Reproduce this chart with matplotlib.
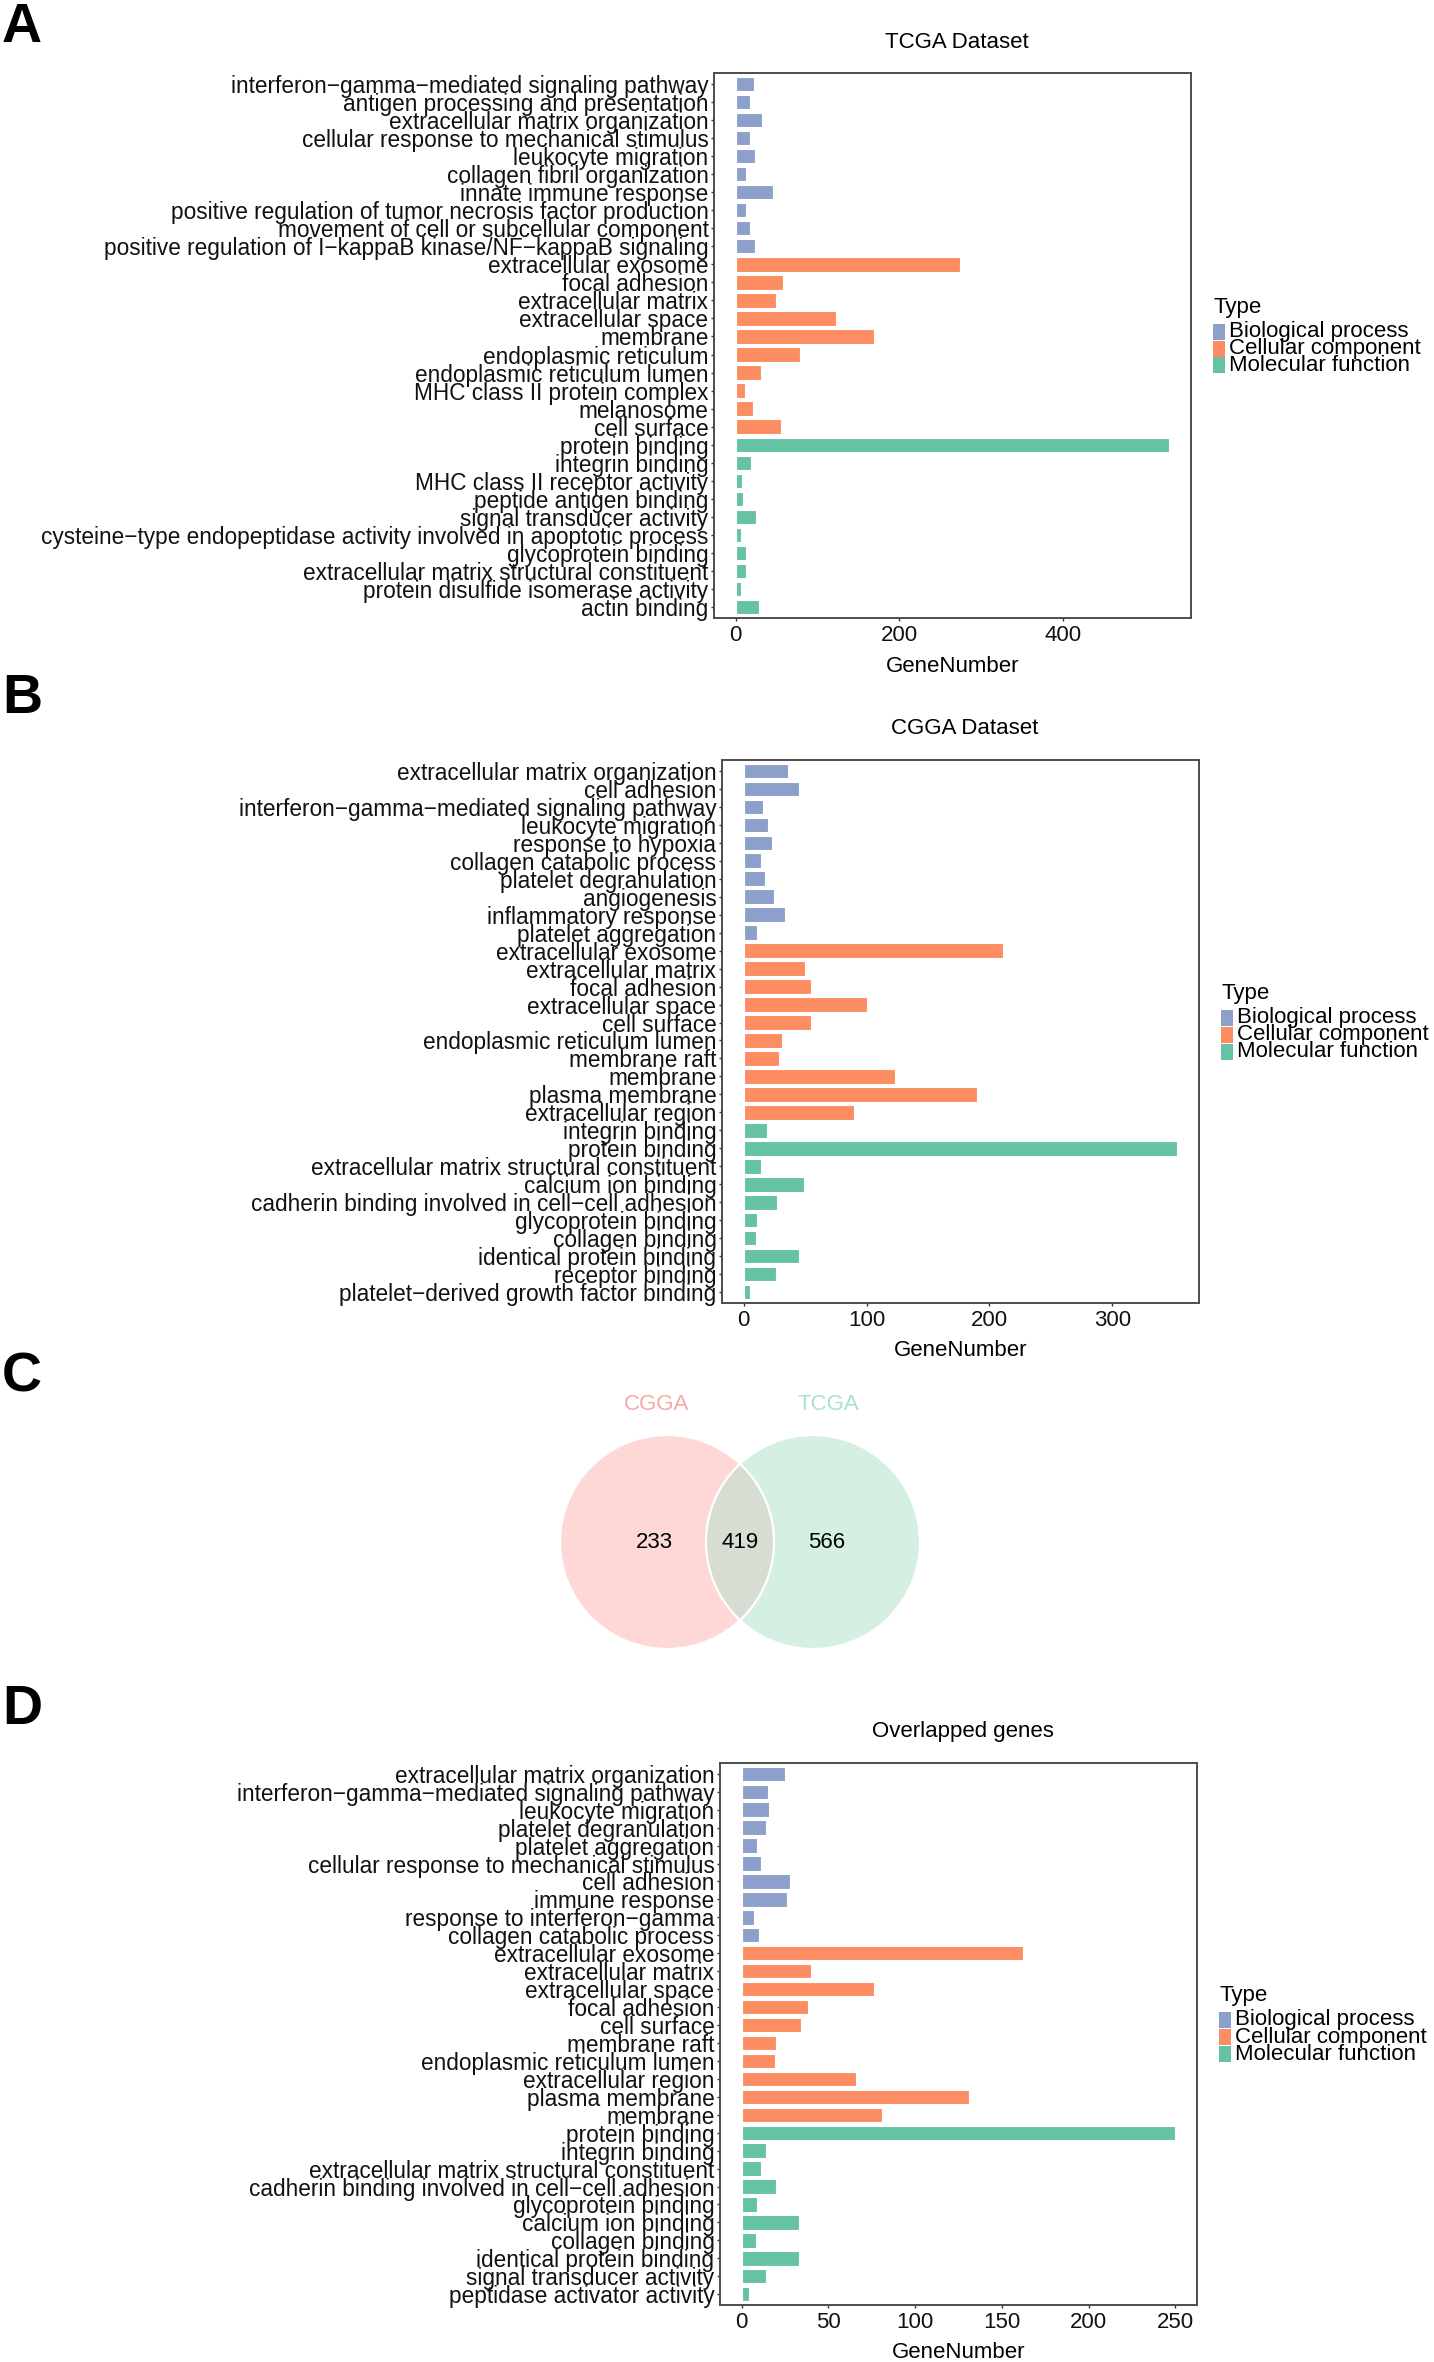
import numpy as np
import matplotlib
matplotlib.use("Agg")
import matplotlib.pyplot as plt
from matplotlib.patches import Circle, Rectangle

plt.rcParams["font.family"] = ["Liberation Sans", "DejaVu Sans"]

W, H = 1434, 2362
DPI = 100

# ── Data ──────────────────────────────────────────────────────────────────────
TYPES = ["Biological process", "Cellular component", "Molecular function"]
TYPE_COLORS = ["#8DA0CB", "#FC8D62", "#66C2A5"]

TCGA_TERMS = [
    "interferon−gamma−mediated signaling pathway",
    "antigen processing and presentation",
    "extracellular matrix organization",
    "cellular response to mechanical stimulus",
    "leukocyte migration",
    "collagen fibril organization",
    "innate immune response",
    "positive regulation of tumor necrosis factor production",
    "movement of cell or subcellular component",
    "positive regulation of I−kappaB kinase/NF−kappaB signaling",
    "extracellular exosome",
    "focal adhesion",
    "extracellular matrix",
    "extracellular space",
    "membrane",
    "endoplasmic reticulum",
    "endoplasmic reticulum lumen",
    "MHC class II protein complex",
    "melanosome",
    "cell surface",
    "protein binding",
    "integrin binding",
    "MHC class II receptor activity",
    "peptide antigen binding",
    "signal transducer activity",
    "cysteine−type endopeptidase activity involved in apoptotic process",
    "glycoprotein binding",
    "extracellular matrix structural constituent",
    "protein disulfide isomerase activity",
    "actin binding",
]
TCGA_COUNTS = [22, 18, 32, 18, 23, 13, 46, 13, 17, 24,
               274, 58, 49, 122, 169, 79, 31, 11, 21, 55,
               530, 19, 8, 9, 25, 6, 12, 12, 7, 28]
TCGA_TYPE_SIZES = [10, 10, 10]

CGGA_TERMS = [
    "extracellular matrix organization",
    "cell adhesion",
    "interferon−gamma−mediated signaling pathway",
    "leukocyte migration",
    "response to hypoxia",
    "collagen catabolic process",
    "platelet degranulation",
    "angiogenesis",
    "inflammatory response",
    "platelet aggregation",
    "extracellular exosome",
    "extracellular matrix",
    "focal adhesion",
    "extracellular space",
    "cell surface",
    "endoplasmic reticulum lumen",
    "membrane raft",
    "membrane",
    "plasma membrane",
    "extracellular region",
    "integrin binding",
    "protein binding",
    "extracellular matrix structural constituent",
    "calcium ion binding",
    "cadherin binding involved in cell−cell adhesion",
    "glycoprotein binding",
    "collagen binding",
    "identical protein binding",
    "receptor binding",
    "platelet−derived growth factor binding",
]
CGGA_COUNTS = [36, 45, 16, 20, 23, 14, 17, 25, 34, 11,
               211, 50, 55, 100, 55, 31, 29, 123, 190, 90,
               19, 353, 14, 49, 27, 11, 10, 45, 26, 5]
CGGA_TYPE_SIZES = [10, 10, 10]

OVERLAP_TERMS = [
    "extracellular matrix organization",
    "interferon−gamma−mediated signaling pathway",
    "leukocyte migration",
    "platelet degranulation",
    "platelet aggregation",
    "cellular response to mechanical stimulus",
    "cell adhesion",
    "immune response",
    "response to interferon−gamma",
    "collagen catabolic process",
    "extracellular exosome",
    "extracellular matrix",
    "extracellular space",
    "focal adhesion",
    "cell surface",
    "membrane raft",
    "endoplasmic reticulum lumen",
    "extracellular region",
    "plasma membrane",
    "membrane",
    "protein binding",
    "integrin binding",
    "extracellular matrix structural constituent",
    "cadherin binding involved in cell−cell adhesion",
    "glycoprotein binding",
    "calcium ion binding",
    "collagen binding",
    "identical protein binding",
    "signal transducer activity",
    "peptidase activator activity",
]
OVERLAP_COUNTS = [25, 15, 16, 14, 9, 11, 28, 26, 7, 10,
                  162, 40, 76, 38, 34, 20, 19, 66, 131, 81,
                  250, 14, 11, 20, 9, 33, 8, 33, 14, 4]
OVERLAP_TYPE_SIZES = [10, 10, 10]

VENN_NAMES = ["CGGA", "TCGA"]
VENN_COUNTS = [233, 419, 566]   # CGGA only, both, TCGA only

FS = 16
FRAME = "#4D4D4D"

fig = plt.figure(figsize=(W / DPI, H / DPI), dpi=DPI)
fig.patch.set_facecolor("white")


def px_axes(x0, y0, x1, y1):
    return fig.add_axes([x0 / W, 1 - y1 / H, (x1 - x0) / W, (y1 - y0) / H])


def bar_panel(box, terms, counts, sizes, title, xticks):
    x0, y0, x1, y1 = box
    ax = px_axes(x0, y0, x1, y1)
    types = np.repeat(np.arange(len(sizes)), sizes)
    colors = [TYPE_COLORS[t] for t in types]
    y = np.arange(len(terms))
    ax.barh(y, counts, height=0.8, color=colors, edgecolor="white", linewidth=0.8)
    ax.set_yticks(y)
    ax.set_yticklabels(terms, fontsize=16.3)
    ax.set_ylim(len(terms) - 0.4, -0.6)
    xmax = max(counts)
    ax.set_xlim(-0.05 * xmax, 1.05 * xmax)
    ax.set_xticks(xticks)
    ax.tick_params(axis="both", length=2.5, width=1, color="#333333",
                   labelsize=FS, labelcolor="#111111")
    ax.tick_params(axis="y", pad=1.5, labelsize=16.3)
    ax.tick_params(axis="x", pad=2.5)
    for s in ax.spines.values():
        s.set_color(FRAME)
        s.set_linewidth(1.4)
    ax.set_xlabel("GeneNumber", fontsize=FS)
    ax.xaxis.set_label_coords(0.5, -48 / (y1 - y0))
    ax.xaxis.label.set_va("center")
    xc = (x0 + x1) / 2
    fig.text((xc + 4) / W, 1 - (y0 - 31) / H, title, fontsize=FS,
             ha="center", va="center")

    # legend
    yc = (y0 + y1) / 2
    lx = x1 + 22
    fig.text(lx / W, 1 - (yc - 38) / H, "Type", fontsize=FS, ha="left", va="center")
    for i, (name, col) in enumerate(zip(TYPES, TYPE_COLORS)):
        ry = yc - 14 + 17 * i
        fig.patches.append(Rectangle((lx / W, 1 - (ry + 8) / H), 12 / W, 16 / H,
                                     transform=fig.transFigure, facecolor=col,
                                     edgecolor="none"))
        fig.text((lx + 16) / W, 1 - ry / H, name, fontsize=FS, ha="left", va="center")
    return ax


bar_panel((714, 73, 1191, 618), TCGA_TERMS, TCGA_COUNTS, TCGA_TYPE_SIZES,
          "TCGA Dataset", [0, 200, 400])
bar_panel((722, 760, 1199, 1303), CGGA_TERMS, CGGA_COUNTS, CGGA_TYPE_SIZES,
          "CGGA Dataset", [0, 100, 200, 300])
bar_panel((720, 1763, 1197, 2305), OVERLAP_TERMS, OVERLAP_COUNTS, OVERLAP_TYPE_SIZES,
          "Overlapped genes", [0, 50, 100, 150, 200, 250])

# ── Venn (panel C) ────────────────────────────────────────────────────────────
vx0, vy0, vx1, vy1 = 540, 1380, 940, 1670
axv = px_axes(vx0, vy0, vx1, vy1)
axv.set_xlim(vx0, vx1)
axv.set_ylim(vy1, vy0)
axv.axis("off")
r = 107
cl = (667, 1542)
cr = (813, 1542)
left = Circle(cl, r, facecolor="#FDD8D6", edgecolor="none")
right = Circle(cr, r, facecolor="#D5F0E3", edgecolor="none")
axv.add_patch(left)
axv.add_patch(right)
lens = Circle(cr, r, facecolor="#D7DDD3", edgecolor="none")
axv.add_patch(lens)
lens.set_clip_path(left)
axv.add_patch(Circle(cl, r, facecolor="none", edgecolor="white", linewidth=1.6))
axv.add_patch(Circle(cr, r, facecolor="none", edgecolor="white", linewidth=1.6))
axv.text(cl[0] - 10, 1405, VENN_NAMES[0], color="#F5A8A4", fontsize=FS,
         ha="center", va="center")
axv.text(cr[0] + 15, 1405, VENN_NAMES[1], color="#A6E3C8", fontsize=FS,
         ha="center", va="center")
for xpos, n in zip([654, 740, 827], VENN_COUNTS):
    axv.text(xpos, 1543, str(n), fontsize=FS, ha="center", va="center", color="black")

# ── Panel letters ─────────────────────────────────────────────────────────────
for letter, ytop in zip("ABCD", [2, 673, 1351, 1684]):
    fig.text(2 / W, 1 - ytop / H, letter, fontsize=40, fontweight="bold",
             ha="left", va="top")

plt.savefig("out.png", dpi=DPI, facecolor="white")
